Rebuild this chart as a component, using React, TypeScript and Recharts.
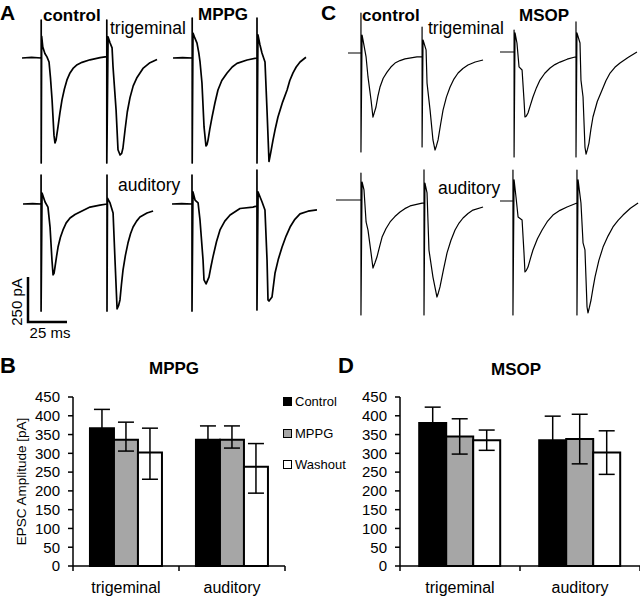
import { Bar, BarChart, ErrorBar, Label, Legend, Line, LineChart, XAxis, YAxis } from "recharts";

const FONT = '"Liberation Sans", Arial, sans-serif';

const aTrigControl: [number, number][] = [
  [0, 0], [6, 3], [12, 0], [12, 211], [12, -583], [12.3, 120], [13, 61], [14.3, 25], [15.6, 6],
  [16.9, -22], [17.8, -110], [18.8, -233], [20, -430], [20.6, -472], [21.3, -455], [22.5, -383],
  [23.7, -305], [25, -233], [26.5, -172], [28.1, -122], [30, -83], [31.9, -58], [34.5, -37],
  [37.5, -24], [42.5, -10], [48.8, 2], [53, 8], [53, 211], [53, -583], [53.8, 117], [55, 85],
  [56.3, 56], [56.9, -50], [58.8, -289], [60, -510], [61.3, -539], [62.3, -530], [63.1, -500],
  [64.4, -400], [65.8, -300], [67.5, -220], [69.5, -155], [71.9, -108], [75.6, -58], [80, -26],
  [84.4, -8],
];
const aTrigMppg: [number, number][] = [
  [0, 0], [6, 2], [12, 0], [12, 222], [12, -583], [12.5, 139], [13.7, 110], [15, 83], [16.1, 30],
  [16.9, -22], [18.1, -139], [19.4, -383], [20.6, -489], [21.3, -480], [21.9, -456], [23, -395],
  [24.4, -328], [26.2, -250], [28.1, -178], [30.5, -125], [33.8, -83], [37, -50], [40, -30],
  [46.3, -11], [52.5, 0], [52.5, 222], [52.5, -583], [53.1, 128], [54.3, 75], [55.6, 28],
  [57.5, -22], [58.8, -300], [60, -575], [61.2, -520], [62.5, -456], [64, -390], [65.6, -328],
  [68.5, -245], [71.3, -178], [73, -125], [75, -83], [77, -50], [79.4, -22], [83.1, 4],
];
const aAudControl: [number, number][] = [
  [0, 0], [6, 2], [11.3, 0], [11.3, 161], [11.3, -595], [11.9, 61], [13.8, 11], [15.6, -17],
  [16.9, -128], [18.1, -311], [18.8, -394], [19.4, -385], [20, -350], [21, -290], [21.9, -239],
  [23.4, -185], [25, -144], [27, -105], [29.4, -78], [32.5, -58], [35.6, -44], [41.9, -17],
  [48.1, -6], [52.5, 0], [52.5, 161], [52.5, -595], [52.8, 33], [54.4, 6], [56.3, -50],
  [57.5, -311], [58.8, -583], [59.7, -565], [60.6, -533], [61.5, -450], [62.5, -367], [64, -285],
  [65.6, -217], [67.2, -165], [68.8, -128], [71, -95], [73.1, -72], [77.5, -50], [81.3, -39],
];
const aAudMppg: [number, number][] = [
  [0, 0], [6, 2], [12.5, 0], [12.5, 161], [12.5, -595], [13.1, 67], [14.4, 22], [16.3, 6],
  [17.5, -89], [19.4, -311], [20, -422], [21.3, -444], [23.1, -406], [24.3, -350], [25.6, -294],
  [27.8, -210], [30, -144], [33, -95], [36.3, -61], [42.5, -25], [50.6, -17], [53.1, -11],
  [53.1, 189], [53.1, -589], [53.8, 67], [56.3, 11], [58.1, -33], [59.4, -311], [60, -533],
  [60.6, -539], [62.5, -517], [64.4, -383], [66.5, -305], [68.8, -239], [71.3, -178], [73.8, -128],
  [76.8, -85], [80, -55], [85, -40], [90.6, -33],
];
const cTrigControl: [number, number][] = [
  [0, 0], [8.1, 0], [8.1, 222], [8.1, -550], [8.8, 100], [9.4, 72], [11.3, -22], [12.5, -133],
  [14.4, -261], [15.6, -356], [16.5, -330], [17.5, -300], [18.7, -240], [20, -189], [22, -140],
  [24.4, -106], [26.8, -78], [29.4, -56], [32.5, -42], [35.6, -33], [43.1, -22], [46.3, -22],
  [46.3, 144], [46.3, -522], [46.9, 72], [48.8, 17], [49.4, -167], [51.3, -317], [53.1, -483],
  [54.4, -539], [55.3, -515], [56.3, -483], [57.8, -400], [59.4, -317], [61.5, -245], [63.8, -189],
  [66.2, -145], [68.8, -111], [71.8, -86], [75, -67], [79.5, -50], [84.4, -39],
];
const cTrigMsop: [number, number][] = [
  [0, 0], [8.8, 0], [8.8, 122], [8.8, -583], [9.4, 106], [10.6, 50], [11.9, -83], [13.8, -100],
  [15, -267], [15.6, -361], [16.5, -355], [17.5, -339], [19, -295], [20.6, -250], [22.8, -198],
  [25, -156], [28, -118], [31.3, -89], [34.3, -70], [37.5, -56], [42, -40], [46.9, -28],
  [47.5, -28], [47.5, 167], [47.5, -583], [48.1, 106], [50, 50], [50.6, -156], [51.9, -250],
  [53.1, -528], [53.8, -567], [54.7, -540], [55.6, -506], [56.8, -430], [58.1, -361], [60.8, -275],
  [63.8, -211], [66.2, -160], [68.8, -117], [71.8, -85], [75, -61], [80, -30], [85.6, 0],
];
const cAudControl: [number, number][] = [
  [0, 0], [15.6, 0], [15.6, 150], [15.6, -639], [16.3, 100], [17.5, 56], [18.8, -122], [20, -167],
  [21.9, -294], [23.1, -378], [24.3, -350], [25.6, -317], [27.2, -260], [28.8, -206], [31.2, -160],
  [33.8, -122], [36.8, -92], [40, -67], [43, -48], [46.3, -33], [53.8, -17], [55, -17], [55, 167],
  [55, -639], [55.6, 94], [56.9, 39], [58.1, -278], [60.6, -428], [63.1, -539], [64, -515],
  [65, -483], [67.2, -385], [69.4, -294], [71.8, -225], [74.4, -167], [76.9, -128], [79.4, -100],
  [82.5, -75], [85.6, -56], [91.9, -39],
];
const cAudMsop: [number, number][] = [
  [0, 0], [8.1, 0], [8.1, 172], [8.1, -633], [8.8, 117], [10, 22], [11.3, -89], [13.8, -106],
  [15, -289], [15.6, -394], [16.5, -385], [17.5, -367], [19, -320], [20.6, -272], [23.4, -210],
  [26.3, -161], [29.5, -115], [33.1, -78], [37.5, -52], [41.9, -33], [48.1, -11], [48.1, 172],
  [48.1, -633], [48.8, 117], [50.6, -11], [51.9, -233], [53.1, -272], [54.4, -589], [55, -622],
  [55.9, -590], [56.9, -550], [58.1, -485], [59.4, -422], [61.8, -330], [64.4, -256], [67.5, -195],
  [70.6, -144], [73.8, -108], [76.9, -78], [81.5, -40], [86.3, -11],
];

// bar panels: mean EPSC amplitude (pA), errors as [minus, plus]
const categories = ["trigeminal", "auditory"];
const mppgControl = [367, 336];
const mppgControlErr = [[50, 50], [37, 37]];
const mppgDrug = [336, 336];
const mppgDrugErr = [[30, 47], [22, 37]];
const mppgWashout = [302, 264];
const mppgWashoutErr = [[71, 65], [70, 62]];
const msopControl = [381, 335];
const msopControlErr = [[42, 42], [64, 64]];
const msopDrug = [345, 338];
const msopDrugErr = [[47, 47], [66, 66]];
const msopWashout = [335, 302];
const msopWashoutErr = [[27, 27], [58, 58]];
const yTicks = [0, 50, 100, 150, 200, 250, 300, 350, 400, 450];

function Trace({ points, left, top, width }: { points: [number, number][]; left: number; top: number; width: number }) {
  const data = points.map(([t, i]) => ({ t, i }));
  return (
    <div style={{ position: "absolute", left, top }}>
      <LineChart width={160} height={162} data={data} margin={{ top: 0, right: 0, bottom: 0, left: 0 }}>
        <XAxis type="number" dataKey="t" domain={[0, 100]} hide />
        <YAxis type="number" domain={[-650, 250]} hide />
        <Line
          type="linear"
          dataKey="i"
          stroke="#000"
          strokeWidth={width}
          strokeLinejoin="round"
          dot={false}
          isAnimationActive={false}
        />
      </LineChart>
    </div>
  );
}

const renderXTick = (props: any) => {
  const { x, y, payload } = props;
  const v = payload.value;
  if (Number.isInteger(v)) {
    return <line x1={x} x2={x} y1={y} y2={y + 5} stroke="#000" strokeWidth={1.5} />;
  }
  return (
    <text x={x} y={y + 27} textAnchor="middle" fontSize={16} fontFamily={FONT} fill="#000">
      {categories[Math.floor(v)]}
    </text>
  );
};

const renderLegend = (props: any) => (
  <div style={{ fontFamily: FONT, fontSize: 13, color: "#000" }}>
    {props.payload.map((entry: any) => (
      <div key={entry.value} style={{ display: "flex", alignItems: "center", height: 31.5 }}>
        <span
          style={{
            display: "inline-block",
            boxSizing: "border-box",
            width: 9,
            height: 9,
            border: "1.5px solid #000",
            background: entry.color,
            marginRight: 3,
          }}
        />
        {entry.value}
      </div>
    ))}
  </div>
);

function Amplitudes(props: {
  left: number;
  width: number;
  right: number;
  drugName: string;
  control: number[];
  controlErr: number[][];
  drug: number[];
  drugErr: number[][];
  washout: number[];
  washoutErr: number[][];
  yLabel?: boolean;
  legend?: boolean;
}) {
  const rows = categories.map((name, i) => ({
    x: i + 0.5,
    name,
    control: props.control[i],
    controlErr: props.controlErr[i],
    drug: props.drug[i],
    drugErr: props.drugErr[i],
    washout: props.washout[i],
    washoutErr: props.washoutErr[i],
  }));
  const errStyle = { stroke: "#000", strokeWidth: 1.5, width: 8 };
  return (
    <div style={{ position: "absolute", left: props.left, top: 340 }}>
      <BarChart
        width={props.width}
        height={260}
        data={rows}
        margin={{ top: 57, right: props.right, bottom: 4, left: 0 }}
        barCategoryGap="16%"
        barGap={0}
      >
        <XAxis
          type="number"
          dataKey="x"
          domain={[0, 2]}
          ticks={[0, 0.5, 1, 1.5, 2]}
          interval={0}
          tick={renderXTick}
          tickLine={false}
          tickSize={0}
          tickMargin={0}
          height={30}
          axisLine={{ stroke: "#000", strokeWidth: 1.5 }}
        />
        <YAxis
          type="number"
          domain={[0, 450]}
          ticks={yTicks}
          interval={0}
          width={73}
          tickSize={5}
          tickMargin={8}
          tick={{ fontSize: 15, fill: "#000", fontFamily: FONT }}
          tickLine={{ stroke: "#000", strokeWidth: 1.5 }}
          axisLine={{ stroke: "#000", strokeWidth: 1.5 }}
        >
          {props.yLabel && (
            <Label
              value="EPSC Amplitude [pA]"
              angle={-90}
              position="insideLeft"
              offset={21}
              style={{ textAnchor: "middle", fontSize: 13.5, fill: "#000", fontFamily: FONT }}
            />
          )}
        </YAxis>
        <Bar dataKey="control" name="Control" fill="#000" stroke="#000" strokeWidth={2} isAnimationActive={false}>
          <ErrorBar dataKey="controlErr" {...errStyle} />
        </Bar>
        <Bar dataKey="drug" name={props.drugName} fill="#a6a6a6" stroke="#000" strokeWidth={2} isAnimationActive={false}>
          <ErrorBar dataKey="drugErr" {...errStyle} />
        </Bar>
        <Bar dataKey="washout" name="Washout" fill="#fff" stroke="#000" strokeWidth={2} isAnimationActive={false}>
          <ErrorBar dataKey="washoutErr" {...errStyle} />
        </Bar>
        {props.legend && (
          <Legend
            layout="vertical"
            align="center"
            verticalAlign="middle"
            content={renderLegend}
            wrapperStyle={{ left: 283, top: 46, width: 80 }}
          />
        )}
      </BarChart>
    </div>
  );
}

const labels = [
  { text: "A", x: 0, y: 20, size: 21, bold: true },
  { text: "control", x: 43, y: 21, size: 17, bold: true },
  { text: "trigeminal", x: 110, y: 34, size: 17.5 },
  { text: "MPPG", x: 198, y: 20, size: 17, bold: true },
  { text: "C", x: 321, y: 20, size: 21, bold: true },
  { text: "control", x: 362, y: 21, size: 17, bold: true },
  { text: "trigeminal", x: 428, y: 34, size: 17.5 },
  { text: "MSOP", x: 519, y: 21, size: 17, bold: true },
  { text: "auditory", x: 118, y: 191, size: 17.5 },
  { text: "auditory", x: 438, y: 194, size: 17.5 },
  { text: "B", x: 0, y: 373, size: 22, bold: true },
  { text: "D", x: 338, y: 373, size: 22, bold: true },
];

export default function App() {
  return (
    <div
      style={{
        position: "absolute",
        left: 0,
        top: 0,
        width: 640,
        height: 600,
        overflow: "hidden",
        background: "#fff",
        fontFamily: FONT,
      }}
    >
      <Trace points={aTrigControl} left={22} top={13} width={1.7} />
      <Trace points={aTrigMppg} left={173} top={13} width={1.7} />
      <Trace points={aAudControl} left={23} top={159} width={1.7} />
      <Trace points={aAudMppg} left={172} top={159} width={1.7} />
      <Trace points={cTrigControl} left={348} top={8} width={1.2} />
      <Trace points={cTrigMsop} left={500} top={7} width={1.2} />
      <Trace points={cAudControl} left={336} top={155} width={1.2} />
      <Trace points={cAudMsop} left={500} top={156} width={1.2} />

      <Amplitudes
        left={0}
        width={345}
        right={60}
        drugName="MPPG"
        control={mppgControl}
        controlErr={mppgControlErr}
        drug={mppgDrug}
        drugErr={mppgDrugErr}
        washout={mppgWashout}
        washoutErr={mppgWashoutErr}
        yLabel
        legend
      />
      <Amplitudes
        left={327}
        width={313}
        right={0}
        drugName="MSOP"
        control={msopControl}
        controlErr={msopControlErr}
        drug={msopDrug}
        drugErr={msopDrugErr}
        washout={msopWashout}
        washoutErr={msopWashoutErr}
      />

      <svg width={640} height={600} style={{ position: "absolute", left: 0, top: 0, pointerEvents: "none" }}>
        {labels.map((l, i) => (
          <text key={i} x={l.x} y={l.y} fontSize={l.size} fontWeight={l.bold ? "bold" : "normal"} fontFamily={FONT} fill="#000">
            {l.text}
          </text>
        ))}
        <text x={174} y={374} textAnchor="middle" fontSize={17} fontWeight="bold" fontFamily={FONT}>MPPG</text>
        <text x={516} y={375} textAnchor="middle" fontSize={17} fontWeight="bold" fontFamily={FONT}>MSOP</text>
        <path d="M28 277 V322 H67" stroke="#000" strokeWidth={2.5} fill="none" />
        <text x={16} y={302} transform="rotate(-90 16 302)" textAnchor="middle" dominantBaseline="central" fontSize={15} fontFamily={FONT}>
          250 pA
        </text>
        <text x={50} y={338} textAnchor="middle" fontSize={15} fontFamily={FONT}>25 ms</text>
      </svg>
    </div>
  );
}
